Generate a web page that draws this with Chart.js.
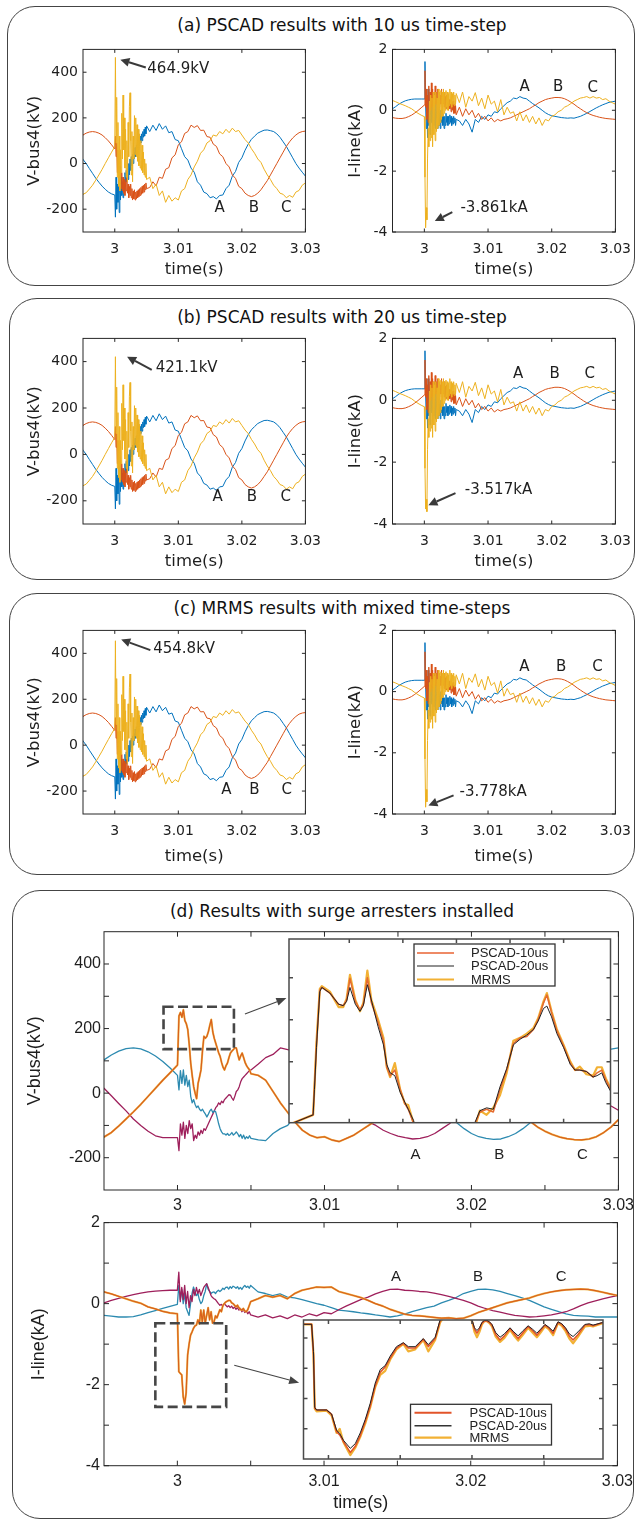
<!DOCTYPE html>
<html>
<head>
<meta charset="utf-8">
<title>Fault transients: PSCAD vs MRMS</title>
<script src="https://cdn.jsdelivr.net/npm/chart.js@4.4.1/dist/chart.umd.min.js"></script>
<style>
  body { margin: 0; background: #fff; }
  #page { position: relative; width: 636px; height: 1521px; overflow: hidden; background: #fff; }
  .panel { position: absolute; border: 1.5px solid #444; border-radius: 28px; box-sizing: border-box; }
  .title { position: absolute; left: 42px; width: 600px; text-align: center; font: 17px "DejaVu Sans", sans-serif;
           line-height: 20px; color: #111; white-space: nowrap; }
  canvas { position: absolute; }
</style>
</head>
<body>
<div id="page">
  <div class="panel" style="left:7px;top:6px;width:628px;height:280px"></div>
  <div class="panel" style="left:9px;top:298px;width:626px;height:282px"></div>
  <div class="panel" style="left:9px;top:593px;width:626px;height:282px"></div>
  <div class="panel" style="left:12px;top:890px;width:622px;height:629px"></div>
  <div class="title" style="top:15px">(a) PSCAD results with 10 us time-step</div>
  <div class="title" style="top:307px">(b) PSCAD results with 20 us time-step</div>
  <div class="title" style="top:598px">(c) MRMS results with mixed time-steps</div>
  <div class="title" style="top:901px">(d) Results with surge arresters installed</div>
</div>
<script>
// ---- sample times (s): 0.5 ms steps before the fault, 0.1 ms for 5 ms after it, then 0.5 ms
function steps(from, to, dt) {
  const out = [];
  for (let i = 0; from + i * dt <= to + dt / 2; i++) out.push(+(from + i * dt).toFixed(5));
  return out;
}
const t = steps(2.995, 3.0, 0.0005).concat(steps(3.0001, 3.005, 0.0001), steps(3.0055, 3.03, 0.0005));

// ---- (a)-(c) bus voltage, kV (phase A, B, C)
const vA = [
  18, 0, -22, -43, -64, -82, -99, -113, -125, -133, -138,
  -235, -60, -200, -90, -170, -70, -215, -110, -160, -60,
  -140, -80, -150, -70, -120, -40, -100, -30, -80, -20,
  -70, 0, -50, 20, -30, 30, -10, 40, 0, 50,
  20, 70, 30, 80, 50, 100, 60, 110, 80, 120,
  90, 130, 100, 140, 115, 150, 120, 160, 130, 165,
  140, 168, 145, 175, 150, 165, 135, 140, 105, 100,
  65, 30, 15, -20, -38, -80, -95, -125, -132, -150,
  -145, -155, -140, -138, -110, -95, -55, -35, 5, 25,
  58, 85, 106, 120, 133, 140, 146, 147, 144, 140,
  130, 115, 95, 75, 50, 25, 0, -20, -38, -55
];
const vB = [
  125, 133, 138, 140, 138, 133, 125, 113, 99, 82, 64,
  120, 30, 90, -40, 60, -80, 20, -90, -10, -110,
  -40, -120, -60, -130, -70, -140, -80, -120, -60, -130,
  -90, -150, -100, -140, -90, -150, -110, -160, -120, -155,
  -115, -160, -125, -155, -120, -150, -115, -145, -110, -140,
  -105, -135, -100, -130, -95, -125, -90, -115, -85, -110,
  -105, -80, -98, -60, -65, -25, -18, 25, 38, 82,
  95, 132, 140, 168, 158, 166, 145, 146, 118, 115,
  85, 75, 42, 30, 0, -15, -50, -65, -100, -110,
  -130, -140, -145, -140, -130, -115, -95, -75, -50, -25,
  0, 25, 50, 75, 95, 112, 125, 135, 140, 142
];
const vC = [
  -135, -128, -112, -95, -73, -50, -26, 0, 25, 50, 73,
  465, 90, 290, -60, 180, -100, 120, -120, 60, -40,
  220, 20, 300, 60, 200, -20, 150, -60, 100, -80,
  180, 30, 250, 310, 100, -50, 140, -80, 120, 20,
  210, 40, 200, 30, 170, 10, 150, -10, 130, -20,
  100, -30, 80, -40, 50, -50, 20, -60, 0, -70,
  -60, -110, -90, -140, -120, -170, -140, -165, -150, -160,
  -120, -110, -70, -50, -15, 10, 45, 60, 90, 100,
  125, 120, 140, 130, 150, 135, 155, 140, 145, 125,
  105, 90, 65, 45, 20, 5, -25, -50, -70, -95,
  -110, -130, -135, -150, -140, -148, -125, -118, -95, -85
];
// ---- (a)-(c) line current, kA
const iA = [
  0.05, 0.12, 0.2, 0.26, 0.31, 0.34, 0.36, 0.37, 0.37, 0.37, 0.37,
  1.6, 0.2, -0.6, 0.5, -0.9, 0.7, -0.5, 0.3, -0.8, 0.5,
  -0.4, 0.2, -0.7, 0.4, -0.5, 0.1, -0.6, 0.3, -0.4, 0.0,
  -0.6, 0.2, -0.5, -0.1, -0.6, 0.0, -0.4, -0.1, -0.5, -0.2,
  -0.6, -0.2, -0.5, -0.1, -0.4, -0.2, -0.5, -0.2, -0.45, -0.15,
  -0.4, -0.2, -0.5, -0.25, -0.45, -0.2, -0.4, -0.25, -0.5, -0.3,
  -0.35, -0.5, -0.3, -0.45, -0.72, -0.3, -0.4, -0.2, -0.3, -0.15,
  -0.2, -0.05, -0.08, 0.05, 0.15, 0.25, 0.3, 0.4, 0.38, 0.45,
  0.4, 0.38, 0.3, 0.22, 0.15, 0.08, 0.0, -0.08, -0.14, -0.18,
  -0.2, -0.22, -0.24, -0.25, -0.26, -0.25, -0.26, -0.23, -0.2, -0.15,
  -0.1, -0.04, 0.02, 0.08, 0.13, 0.18, 0.22, 0.26, 0.28, 0.3
];
const iB = [
  -0.24, -0.26, -0.27, -0.27, -0.25, -0.21, -0.16, -0.09, -0.01, 0.08, 0.17,
  1.3, 0.1, 0.7, -0.3, 0.5, -0.4, 0.8, -0.2, 0.6, 0.0,
  0.9, 0.1, 0.7, -0.1, 0.6, 0.1, 0.8, 0.2, 0.6, 0.0,
  0.7, 0.2, 0.6, 0.1, 0.5, 0.2, 0.7, 0.1, 0.5, 0.2,
  0.6, 0.1, 0.45, 0.05, 0.5, 0.1, 0.4, 0.0, 0.35, 0.05,
  0.3, -0.05, 0.25, 0.0, 0.3, -0.1, 0.2, -0.1, 0.15, -0.15,
  0.1, -0.2, 0.05, -0.15, 0.0, -0.25, -0.1, -0.3, -0.2, -0.35,
  -0.25, -0.38, -0.3, -0.35, -0.3, -0.28, -0.25, -0.2, -0.15, -0.1,
  -0.05, 0.0, 0.05, 0.12, 0.18, 0.25, 0.3, 0.35, 0.38, 0.4,
  0.42, 0.42, 0.41, 0.38, 0.33, 0.27, 0.2, 0.12, 0.05, -0.02,
  -0.08, -0.13, -0.17, -0.2, -0.23, -0.25, -0.27, -0.28, -0.29, -0.3
];
const iC = [
  0.32, 0.28, 0.23, 0.19, 0.15, 0.1, 0.05, -0.03, -0.1, -0.16, -0.21,
  -2.2, -3.86, -3.2, -3.6, -1.6, -0.6, -1.2, 0.3, -1.0, 0.5,
  -0.9, 0.4, -1.2, 0.6, -0.8, 0.5, -1.0, 0.6, -0.7, 0.4,
  -0.6, 0.7, -0.5, 0.6, -0.4, 0.65, -0.3, 0.6, -0.2, 0.7,
  -0.1, 0.6, 0.0, 0.65, 0.1, 0.6, 0.0, 0.55, 0.15, 0.7,
  0.2, 0.6, 0.1, 0.55, 0.2, 0.6, 0.15, 0.5, 0.2, 0.55,
  0.25, 0.6, 0.1, 0.45, 0.3, 0.58, 0.15, 0.4, 0.05, 0.5,
  0.2, 0.3, -0.05, 0.35, -0.15, 0.1, -0.1, -0.05, -0.35, -0.05,
  -0.35, -0.15, -0.4, -0.2, -0.45, -0.25, -0.5, -0.3, -0.35, -0.2,
  -0.15, -0.05, 0.0, 0.1, 0.15, 0.22, 0.3, 0.35, 0.4, 0.42,
  0.45, 0.4, 0.45, 0.4, 0.42, 0.35, 0.38, 0.3, 0.25, 0.2
];
// peak values marked in (a), (b), (c)
const vPeak = [464.9, 421.1, 454.8];
const iPeak = [-3.861, -3.517, -3.778];

// ---- (d) with surge arresters: voltage kV, current kA
const dA = [
  15, -8, -32, -55, -80, -100, -118, -132, -138, -138, -138,
  -178, -95, -130, -90, -140, -100, -125, -85, -110, -95,
  -147, -130, -140, -120, -130, -115, -125, -110, -115, -105,
  -95, -85, -75, -65, -55, -45, -40, -30, -35, -25,
  -30, -20, -15, -10, -5, -6, -15, -22, -10, 5,
  10, 20, 35, 45, 50, 55, 60, 65, 70, 72,
  90, 110, 120, 140, 135, 130, 115, 95, 70, 40,
  15, -10, -35, -55, -75, -90, -100, -115, -125, -133,
  -138, -142, -140, -135, -125, -110, -95, -75, -50, -25,
  0, 25, 55, 80, 105, 125, 138, 142, 138, 128,
  112, 92, 70, 48, 25, 5, -12, -25, -40, -53
];
const dB = [
  103, 118, 130, 138, 140, 137, 128, 115, 98, 78, 55,
  10, 70, 30, 72, 25, 55, 20, 40, -10, -30,
  -20, -35, -45, -40, -50, -55, -50, -58, -65, -74,
  -65, -55, -50, -60, -55, -58, -75, -95, -110, -120,
  -126, -126, -130, -125, -131, -128, -122, -130, -126, -120,
  -126, -135, -128, -140, -130, -142, -135, -140, -132, -140,
  -145, -147, -125, -110, -100, -70, -40, -10, 20, 50,
  80, 105, 125, 138, 145, 145, 140, 130, 115, 95,
  75, 50, 25, 0, -25, -50, -72, -92, -110, -125,
  -135, -140, -143, -142, -135, -125, -110, -92, -70, -45,
  -20, 5, 30, 55, 78, 98, 115, 128, 136, 140
];
const dC = [
  -136, -122, -102, -80, -58, -35, -10, 15, 40, 63, 87,
  239, 250, 235, 258, 225, 215, 197, 150, 93, 55,
  20, 0, -17, 30, 50, 72, 130, 176, 170, 176,
  190, 210, 228, 190, 170, 155, 140, 125, 114, 95,
  80, 72, 85, 93, 110, 124, 130, 135, 140, 140,
  120, 103, 115, 124, 110, 95, 85, 78, 72, 60,
  55, 40, 5, -30, -60, -90, -115, -130, -138, -135,
  -145, -150, -140, -130, -115, -100, -85, -60, -30, 0,
  30, 60, 90, 115, 132, 142, 145, 140, 128, 110,
  88, 62, 35, 8, -20, -45, -68, -88, -105, -118,
  -128, -136, -141, -144, -145, -142, -135, -122, -105, -82
];
const diA = [
  0.02, 0.08, 0.13, 0.18, 0.22, 0.26, 0.29, 0.31, 0.32, 0.33, 0.33,
  0.78, 0.05, 0.4, 0.1, 0.45, 0.0, 0.3, -0.1, 0.2, 0.05,
  0.35, 0.2, 0.4, 0.25, 0.35, 0.2, 0.3, 0.4, 0.45, 0.49,
  0.4, 0.3, 0.2, 0.15, 0.12, 0.1, 0.05, 0.0, -0.04, -0.02,
  -0.06, 0.0, -0.04, -0.08, -0.05, -0.1, -0.06, -0.12, -0.08, -0.14,
  -0.1, -0.16, -0.12, -0.2, -0.15, -0.22, -0.18, -0.25, -0.2, -0.28,
  -0.33, -0.28, -0.35, -0.3, -0.37, -0.28, -0.33, -0.25, -0.3, -0.22,
  -0.25, -0.15, -0.06, 0.02, 0.1, 0.16, 0.24, 0.3, 0.35, 0.36,
  0.33, 0.32, 0.3, 0.29, 0.26, 0.22, 0.18, 0.13, 0.08, 0.02,
  -0.06, -0.12, -0.17, -0.21, -0.25, -0.29, -0.31, -0.33, -0.32, -0.3,
  -0.28, -0.24, -0.2, -0.13, -0.05, 0.02, 0.07, 0.12, 0.16, 0.2
];
const diB = [
  -0.29, -0.31, -0.33, -0.33, -0.32, -0.28, -0.22, -0.17, -0.12, -0.07, -0.02,
  0.45, 0.1, 0.35, 0.0, 0.25, -0.1, -0.2, -0.29, 0.0, 0.25,
  0.41, 0.3, 0.2, 0.25, 0.1, 0.0, 0.05, 0.2, 0.3, 0.49,
  0.35, 0.3, 0.25, 0.28, 0.29, 0.25, 0.3, 0.33, 0.3, 0.33,
  0.38, 0.35, 0.4, 0.41, 0.36, 0.42, 0.38, 0.43, 0.41, 0.38,
  0.42, 0.36, 0.4, 0.35, 0.41, 0.45, 0.4, 0.43, 0.38, 0.45,
  0.29, 0.25, 0.2, 0.24, 0.16, 0.14, 0.1, 0.05, 0.0, -0.04,
  -0.1, -0.16, -0.18, -0.2, -0.23, -0.25, -0.28, -0.3, -0.33, -0.3,
  -0.26, -0.2, -0.15, -0.1, -0.06, 0.02, 0.08, 0.15, 0.25, 0.3,
  0.35, 0.36, 0.34, 0.3, 0.25, 0.2, 0.14, 0.08, 0.0, -0.08,
  -0.14, -0.2, -0.25, -0.29, -0.3, -0.31, -0.33, -0.33, -0.33, -0.33
];
const diC = [
  0.29, 0.24, 0.18, 0.12, 0.06, 0.01, -0.08, -0.13, -0.19, -0.23, -0.25,
  -1.68, -1.72, -1.76, -2.3, -2.48, -2.2, -1.27, -1.0, -0.78, -0.7,
  -0.61, -0.55, -0.53, -0.4, -0.5, -0.16, -0.45, -0.16, -0.48, -0.29,
  -0.1, -0.4, -0.2, -0.48, -0.45, -0.3, -0.35, -0.25, -0.15, -0.2,
  -0.05, 0.0, 0.04, 0.06, 0.08, 0.08, 0.02, 0.0, -0.04, -0.08,
  -0.04, -0.1, -0.14, -0.16, -0.12, -0.18, -0.2, -0.15, -0.05, 0.05,
  0.12, 0.2, 0.16, 0.2, 0.12, 0.25, 0.33, 0.37, 0.41, 0.4,
  0.41, 0.3, 0.25, 0.2, 0.15, 0.08, 0.0, -0.06, -0.14, -0.2,
  -0.26, -0.29, -0.3, -0.32, -0.34, -0.36, -0.35, -0.37, -0.36, -0.3,
  -0.22, -0.16, -0.1, -0.04, 0.02, 0.06, 0.1, 0.14, 0.2, 0.25,
  0.29, 0.32, 0.34, 0.35, 0.36, 0.35, 0.32, 0.28, 0.24, 0.2
];

// ---- (d) zoomed insets: phase C voltage and current, three solvers
const insVt = [2.9996, 2.99996, 2.99998, 3.00001, 3.00006, 3.00009, 3.00021, 3.00034, 3.00041, 3.00046,
  3.00051, 3.00059, 3.00066, 3.00071, 3.00077, 3.00083, 3.00093, 3.00101, 3.00106, 3.00111,
  3.00118, 3.00126, 3.00133, 3.00138, 3.00146, 3.00171, 3.002, 3.00223, 3.00238, 3.00245,
  3.00255, 3.00265, 3.00275, 3.00285, 3.00295, 3.00305, 3.00315, 3.00325, 3.00332, 3.0034,
  3.00345, 3.00352, 3.0036, 3.0037, 3.0038, 3.00387, 3.00394, 3.00404, 3.00414, 3.0042,
  3.00427, 3.00433, 3.0044];
const insV10 = [135, 142, 162, 192, 231, 233, 229, 221, 220, 224,
  239.5, 223, 217, 221, 240, 222, 208, 195, 176, 170,
  174, 160, 150, 146, 136, 80, 60, 100, 136, 144,
  146, 144, 160, 174, 193, 197, 198, 203, 210, 222,
  227.6, 215, 202, 191, 179, 174, 174, 173, 169, 172,
  174, 167, 160];
const insV20 = [135, 142, 160, 190, 230, 233, 229, 221, 220, 223,
  233, 221, 216, 220, 235, 224, 205, 192, 178, 172,
  170, 158, 151, 146, 138, 82, 62, 98, 137, 145,
  147, 146, 162, 175, 192, 196, 199, 203, 209, 218,
  219.7, 212, 200, 190, 178, 174, 174, 173, 169, 170,
  172, 165, 159];
const insVM = [135, 142, 162, 194, 232, 234, 230, 219, 219, 225,
  242, 224, 216, 222, 245, 224, 210, 197, 176, 169,
  179, 160, 150, 149, 136, 80, 60, 100, 134, 145,
  142, 147, 156, 172, 195, 197, 200, 204, 211, 223,
  229, 216, 203, 192, 180, 174, 176.5, 171, 170, 176,
  176, 168, 161];
const insIt = [2.9998, 2.99993, 2.99996, 2.99998, 3.00001, 3.00017, 3.00025, 3.00033, 3.00038, 3.00044,
  3.00055, 3.00063, 3.00071, 3.00079, 3.00087, 3.00095, 3.00103, 3.00111, 3.00119, 3.00129,
  3.0014, 3.00148, 3.00159, 3.00172, 3.0018, 3.00191, 3.00199, 3.00223,
  3.0025, 3.00254, 3.00258, 3.00262, 3.00266, 3.0027, 3.00274, 3.00278, 3.00282, 3.00288,
  3.00295, 3.00302, 3.00311, 3.00317, 3.00324, 3.00331, 3.0034, 3.00347, 3.00354, 3.0036,
  3.00367, 3.00373, 3.0038, 3.00384, 3.00388, 3.00394, 3.004, 3.00406, 3.00412, 3.0042,
  3.00431, 3.00438, 3.00444, 3.0046];
const insI10 = [-0.548, -0.548, -1.0, -1.795, -1.82, -1.82, -1.885, -2.143, -2.19, -2.29,
  -2.45, -2.36, -2.2, -1.99, -1.76, -1.46, -1.26, -1.18, -1.05, -0.9,
  -0.83, -0.9, -0.9, -0.77, -0.88, -0.76, -0.5, -0.2,
  -0.49, -0.62, -0.68, -0.62, -0.53, -0.5, -0.5, -0.52, -0.56, -0.7,
  -0.78, -0.72, -0.61, -0.68, -0.76, -0.68, -0.58, -0.64, -0.71, -0.64,
  -0.56, -0.6, -0.68, -0.6, -0.52, -0.55, -0.62, -0.72, -0.78, -0.7,
  -0.56, -0.55, -0.57, -0.52];
const insI20 = [-0.548, -0.548, -0.95, -1.78, -1.82, -1.82, -1.88, -2.12, -2.17, -2.27,
  -2.39, -2.32, -2.16, -1.96, -1.72, -1.42, -1.22, -1.16, -1.02, -0.88,
  -0.82, -0.88, -0.88, -0.76, -0.85, -0.74, -0.48, -0.2,
  -0.48, -0.6, -0.64, -0.6, -0.52, -0.49, -0.49, -0.51, -0.55, -0.67,
  -0.74, -0.69, -0.6, -0.66, -0.72, -0.65, -0.57, -0.62, -0.68, -0.62,
  -0.55, -0.59, -0.65, -0.58, -0.51, -0.54, -0.6, -0.69, -0.73, -0.66,
  -0.55, -0.54, -0.56, -0.52];
const insIM = [-0.548, -0.548, -1.0, -1.8, -1.84, -1.83, -1.9, -2.16, -2.1, -2.3,
  -2.49, -2.38, -2.22, -2.02, -1.78, -1.48, -1.3, -1.24, -1.07, -0.92,
  -0.84, -0.95, -0.92, -0.78, -0.95, -0.78, -0.52, -0.2,
  -0.5, -0.66, -0.74, -0.66, -0.55, -0.5, -0.5, -0.53, -0.58, -0.73,
  -0.81, -0.75, -0.63, -0.71, -0.79, -0.71, -0.6, -0.67, -0.74, -0.67,
  -0.58, -0.62, -0.71, -0.62, -0.53, -0.57, -0.65, -0.76, -0.83, -0.73,
  -0.58, -0.57, -0.58, -0.53];

// ---- ticks
const xTicks = [3, 3.01, 3.02, 3.03];
const xLabels = ['3', '3.01', '3.02', '3.03'];
const vTicks = [-200, 0, 200, 400];
const iTicks = [-4, -2, 0, 2];
const dxTicks = [3, 3.005, 3.01, 3.015, 3.02, 3.025, 3.03];
const dxLabels = ['3', '', '3.01', '', '3.02', '', '3.03'];
const dvTicks = [-200, -100, 0, 100, 200, 300, 400];
const dvLabels = ['-200', '', '0', '', '200', '', '400'];
const diTicks = [-4, -3, -2, -1, 0, 1, 2];
const diLabels = ['-4', '', '-2', '', '0', '', '2'];
const phases = ['A', 'B', 'C'];
const solvers = ['PSCAD-10us', 'PSCAD-20us', 'MRMS'];

const page = document.getElementById('page');
const INK = '#1e1e1e';

function line(xs, ys, color, width) {
  return {
    data: xs.map((x, i) => ({x: x, y: ys[i]})),
    borderColor: color, borderWidth: width, pointRadius: 0, tension: 0,
    fill: false, borderJoinStyle: 'round', borderCapStyle: 'round'
  };
}

// matlab style box with inward ticks
function boxPlugin(b) {
  return {
    id: 'matBox',
    beforeDatasetsDraw(chart) {
      if (!b.fill) return;
      const a = chart.chartArea, ctx = chart.ctx;
      ctx.save();
      ctx.fillStyle = b.fill;
      ctx.fillRect(a.left, a.top, a.right - a.left, a.bottom - a.top);
      ctx.restore();
    },
    afterDatasetsDraw(chart) {
      const {ctx, chartArea: a, scales: {x, y}} = chart;
      ctx.save();
      ctx.strokeStyle = b.color;
      ctx.lineWidth = b.width;
      ctx.beginPath();
      x.ticks.forEach(tk => {
        const p = x.getPixelForValue(tk.value);
        ctx.moveTo(p, a.bottom); ctx.lineTo(p, a.bottom - b.tick);
        ctx.moveTo(p, a.top); ctx.lineTo(p, a.top + b.tick);
      });
      y.ticks.forEach(tk => {
        const p = y.getPixelForValue(tk.value);
        ctx.moveTo(a.left, p); ctx.lineTo(a.left + b.tick, p);
        ctx.moveTo(a.right, p); ctx.lineTo(a.right - b.tick, p);
      });
      ctx.stroke();
      ctx.strokeRect(a.left, a.top, a.right - a.left, a.bottom - a.top);
      if (b.legend) drawLegend(ctx, a, b.legend);
      ctx.restore();
    }
  };
}

function drawLegend(ctx, a, lg) {
  const x0 = a.left + lg.dx, y0 = a.top + lg.dy;
  ctx.fillStyle = '#fff';
  ctx.fillRect(x0, y0, lg.w, lg.h);
  ctx.strokeStyle = '#333';
  ctx.lineWidth = 1.3;
  ctx.strokeRect(x0, y0, lg.w, lg.h);
  ctx.font = '13px "Liberation Sans"';
  ctx.textBaseline = 'middle';
  ctx.textAlign = 'left';
  lg.rows.forEach((row, k) => {
    const yy = y0 + lg.rowY[k];
    ctx.strokeStyle = row.color;
    ctx.lineWidth = row.width;
    ctx.beginPath();
    ctx.moveTo(x0 + lg.l1, yy); ctx.lineTo(x0 + lg.l2, yy);
    ctx.stroke();
    ctx.fillStyle = '#222';
    ctx.fillText(row.text, x0 + lg.tx, yy + 0.5);
  });
}

function drawArrow(ctx, x1, y1, x2, y2, w, len, half, color) {
  const ang = Math.atan2(y2 - y1, x2 - x1);
  const bx = x2 - len * Math.cos(ang), by = y2 - len * Math.sin(ang);
  ctx.strokeStyle = color; ctx.fillStyle = color; ctx.lineWidth = w;
  ctx.beginPath(); ctx.moveTo(x1, y1); ctx.lineTo(bx, by); ctx.stroke();
  ctx.beginPath();
  ctx.moveTo(x2, y2);
  ctx.lineTo(bx + half * Math.sin(ang), by - half * Math.cos(ang));
  ctx.lineTo(bx - half * Math.sin(ang), by + half * Math.cos(ang));
  ctx.closePath(); ctx.fill();
}

// arrows, texts and dashed boxes placed in data coordinates
function notesPlugin(n) {
  return {
    id: 'notes',
    afterDraw(chart) {
      const {ctx, scales: {x, y}} = chart;
      const px = v => x.getPixelForValue(v), py = v => y.getPixelForValue(v);
      ctx.save();
      (n.rects || []).forEach(r => {
        ctx.setLineDash(r.dash); ctx.lineWidth = r.w; ctx.strokeStyle = r.color;
        ctx.strokeRect(px(r.x1), py(r.y2), px(r.x2) - px(r.x1), py(r.y1) - py(r.y2));
      });
      ctx.setLineDash([]);
      (n.arrows || []).forEach(a => drawArrow(ctx, px(a.p[0]), py(a.p[1]), px(a.p[2]), py(a.p[3]), a.w, a.len, a.half, a.color));
      (n.texts || []).forEach(tx => {
        ctx.font = tx.font; ctx.fillStyle = INK; ctx.textAlign = tx.align; ctx.textBaseline = 'middle';
        ctx.fillText(tx.text, px(tx.x), py(tx.y));
      });
      ctx.restore();
    }
  };
}

// datasets are given bottom-to-top; chart.js paints the first dataset last
function makeChart(o) {
  const r = o.rect, m = o.m;
  const tf = o.titleFont || {size: 12};
  const lh = tf.size * 1.2;
  let bottomM = m.B;
  if (o.xTitle) bottomM = o.xTitleY + lh / 2 + 1 - r.b;
  const cl = Math.floor(r.l - m.L), ct = Math.floor(r.t - m.T);
  const cr = Math.ceil(r.r + m.R), cb = Math.ceil(r.b + bottomM);
  const W = cr - cl, H = cb - ct;
  const cv = document.createElement('canvas');
  cv.width = W; cv.height = H;
  cv.style.left = cl + 'px'; cv.style.top = ct + 'px';
  cv.style.width = W + 'px'; cv.style.height = H + 'px';
  page.appendChild(cv);

  const axis = (ax, isX) => ({
    type: 'linear', min: ax.min, max: ax.max,
    grid: {display: false, drawTicks: false},
    border: {display: false},
    ticks: {
      display: !!ax.labels, padding: ax.pad || 0, font: o.tickFont, color: INK,
      maxRotation: 0, minRotation: 0, autoSkip: false,
      callback: (v, i) => (ax.labels ? ax.labels[i] : '')
    },
    afterBuildTicks: s => { s.ticks = ax.ticks.map(v => ({value: v})); },
    afterFit: s => { if (isX) s.height = cb - r.b; else s.width = r.l - cl; },
    title: ax.title ? {
      display: true, text: ax.title, color: INK, font: tf,
      padding: isX ? {top: 0, bottom: cb - o.xTitleY - lh / 2} : {top: o.yTitleX - cl - lh / 2, bottom: 0}
    } : {display: false}
  });

  return new Chart(cv, {
    type: 'line',
    data: {datasets: o.datasets.slice().reverse()},
    options: {
      responsive: false, animation: false, events: [],
      layout: {padding: {left: 0, right: cr - r.r, top: r.t - ct, bottom: 0}},
      plugins: {legend: {display: false}, tooltip: {enabled: false}},
      scales: {x: axis(o.x, true), y: axis(o.y, false)}
    },
    plugins: [boxPlugin(o.box), notesPlugin(o.notes || {})]
  });
}

// ---------------- panels (a) (b) (c)
const acRects = [
  {v: {l: 83, r: 310, t: 48, b: 232}, i: {l: 392.5, r: 619.5, t: 48, b: 232}, xTitleY: 270},
  {v: {l: 83, r: 310, t: 337.5, b: 524}, i: {l: 392.5, r: 619.5, t: 337.5, b: 524}, xTitleY: 562},
  {v: {l: 83, r: 310, t: 629, b: 814}, i: {l: 392.5, r: 619.5, t: 629, b: 814}, xTitleY: 857}
];
const acNotes = [
  {vArrow: [3.00488, 421, 3.00088, 455], vText: [3.00512, 413], iArrow: [3.00439, -3.35, 3.00164, -3.64], iText: [3.00567, -3.23],
   vABC: [[3.0165, -197], [3.0219, -197], [3.027, -195]], iABC: [[3.01575, 0.77], [3.021, 0.77], [3.02645, 0.73]]},
  {vArrow: [3.00582, 364, 3.00194, 421], vText: [3.00644, 370], iArrow: [3.00489, -3.0, 3.00063, -3.39], iText: [3.00636, -2.92],
   vABC: [[3.0162, -183], [3.02157, -183], [3.0269, -183]], iABC: [[3.01472, 0.84], [3.02044, 0.84], [3.02598, 0.84]]},
  {vArrow: [3.0056, 414, 3.00101, 460], vText: [3.00605, 417], iArrow: [3.00459, -3.39, 3.00064, -3.72], iText: [3.00552, -3.28],
   vABC: [[3.01758, -194], [3.02198, -194], [3.02707, -194]], iABC: [[3.01572, 0.79], [3.02146, 0.79], [3.0272, 0.79]]}
];
const BLUE = '#0072BD', ORANGE = '#D95319', YELLOW = '#EDB120';
const acTick = {family: 'DejaVu Sans', size: 14};
const noteFont = '15px "DejaVu Sans"';
const acBox = {color: '#262626', width: 1, tick: 3.5};

acRects.forEach((rc, p) => {
  const nt = acNotes[p];
  const vCp = vC.slice(); vCp[11] = vPeak[p];
  const iCp = iC.slice(); iCp[12] = iPeak[p];
  makeChart({
    rect: rc.v, m: {L: 78, R: 20, T: 12},
    tickFont: acTick, titleFont: {family: 'DejaVu Sans', size: 16.5},
    xTitle: true, xTitleY: rc.xTitleY, yTitleX: 35,
    x: {min: 2.995, max: 3.03, ticks: xTicks, labels: xLabels, pad: 9, title: 'time(s)'},
    y: {min: -300, max: 500, ticks: vTicks, labels: vTicks.map(String), pad: 5, title: 'V-bus4(kV)'},
    datasets: [line(t, vA, BLUE, 1), line(t, vB, ORANGE, 1), line(t, vCp, YELLOW, 1)],
    box: acBox,
    notes: {
      arrows: [{p: nt.vArrow, w: 2, len: 9, half: 4.5, color: '#3a3a3a'}],
      texts: [{x: nt.vText[0], y: nt.vText[1], text: vPeak[p].toFixed(1) + 'kV', font: noteFont, align: 'left'}]
        .concat(nt.vABC.map((q, k) => ({x: q[0], y: q[1], text: phases[k], font: noteFont, align: 'center'})))
    }
  });
  makeChart({
    rect: rc.i, m: {L: 62, R: 20, T: 12},
    tickFont: acTick, titleFont: {family: 'DejaVu Sans', size: 16.5},
    xTitle: true, xTitleY: rc.xTitleY, yTitleX: 356,
    x: {min: 2.995, max: 3.03, ticks: xTicks, labels: xLabels, pad: 9, title: 'time(s)'},
    y: {min: -4, max: 2, ticks: iTicks, labels: iTicks.map(String), pad: 5, title: 'I-line(kA)'},
    datasets: [line(t, iA, BLUE, 1), line(t, iB, ORANGE, 1), line(t, iCp, YELLOW, 1)],
    box: acBox,
    notes: {
      arrows: [{p: nt.iArrow, w: 2, len: 9, half: 4.5, color: '#3a3a3a'}],
      texts: [{x: nt.iText[0], y: nt.iText[1], text: iPeak[p].toFixed(3) + 'kA', font: noteFont, align: 'left'}]
        .concat(nt.iABC.map((q, k) => ({x: q[0], y: q[1], text: phases[k], font: noteFont, align: 'center'})))
    }
  });
});

// ---------------- panel (d)
const PURPLE = '#9E1F5B', TEAL = '#2C8AB0', DORANGE = '#D9601C', UNDER = '#EDB54A';
const dTick = {family: 'Liberation Sans', size: 16};
const dTitle = {family: 'Liberation Sans', size: 18};
const dNote = '15px "Liberation Sans"';
const dBox = {color: '#262626', width: 1, tick: 5};
const dash = {dash: [10, 4.5], w: 2.6, color: '#464646'};

makeChart({
  rect: {l: 104, r: 621.5, t: 931.7, b: 1190}, m: {L: 92, R: 18, T: 12, B: 30},
  tickFont: dTick, titleFont: dTitle, yTitleX: 35.5,
  x: {min: 2.995, max: 3.03, ticks: dxTicks, labels: dxLabels, pad: 6},
  y: {min: -300, max: 500, ticks: dvTicks, labels: dvLabels, pad: 3, title: 'V-bus4(kV)'},
  datasets: [line(t, dA, PURPLE, 1.3), line(t, dB, TEAL, 1.3), line(t, dC, UNDER, 2), line(t, dC, DORANGE, 1.2)],
  box: dBox,
  notes: {
    rects: [Object.assign({x1: 2.99905, x2: 3.00384, y1: 136.4, y2: 267.5}, dash)],
    arrows: [{p: [3.00459, 245, 3.00741, 294.5], w: 1.1, len: 10, half: 4, color: '#444'}],
    texts: [[3.01619, -192], [3.0219, -192], [3.02755, -192]].map((q, k) => ({x: q[0], y: q[1], text: phases[k], font: dNote, align: 'center'}))
  }
});
makeChart({
  rect: {l: 104, r: 621, t: 1221.7, b: 1465.7}, m: {L: 92, R: 18, T: 12},
  tickFont: dTick, titleFont: dTitle, xTitle: true, xTitleY: 1503, yTitleX: 39.5,
  x: {min: 2.995, max: 3.03, ticks: dxTicks, labels: dxLabels, pad: 6, title: 'time(s)'},
  y: {min: -4, max: 2, ticks: diTicks, labels: diLabels, pad: 4, title: 'I-line(kA)'},
  datasets: [line(t, diB, TEAL, 1.3), line(t, diA, PURPLE, 1.3), line(t, diC, UNDER, 2), line(t, diC, DORANGE, 1.2)],
  box: dBox,
  notes: {
    rects: [Object.assign({x1: 2.9985, x2: 3.00333, y1: -2.548, y2: -0.484}, dash)],
    arrows: [{p: [3.00388, -1.52, 3.0083, -1.95], w: 1.1, len: 10, half: 4, color: '#444'}],
    texts: [[3.0149, 0.65], [3.0205, 0.65], [3.02617, 0.65]].map((q, k) => ({x: q[0], y: q[1], text: phases[k], font: dNote, align: 'center'}))
  }
});

// insets (white background, no labels)
const insBox = (lg) => ({color: '#4a4a4a', width: 1.5, tick: 4, fill: '#fff', legend: lg});
makeChart({
  rect: {l: 289, r: 610.5, t: 939, b: 1122.7}, m: {L: 2, R: 2, T: 2, B: 2},
  x: {min: 2.9996, max: 3.0044, ticks: [3.0005, 3.0013, 3.0021, 3.0029, 3.0037]},
  y: {min: 136.4, max: 267.6, ticks: [150, 180, 210, 240]},
  datasets: [line(insVt, insVM, '#F2B134', 2.2), line(insVt, insV10, '#E46A30', 1.5), line(insVt, insV20, '#222', 1)],
  box: insBox({dx: 125, dy: 5, w: 141, h: 42, l1: 3, l2: 40, tx: 57, rowY: [9, 22, 35.5],
    rows: [{color: '#EE8A66', width: 2.2, text: solvers[0]}, {color: '#222', width: 1.2, text: solvers[1]}, {color: '#F2B134', width: 2.2, text: solvers[2]}]})
});
makeChart({
  rect: {l: 303.5, r: 603, t: 1320, b: 1459}, m: {L: 2, R: 2, T: 2, B: 2},
  x: {min: 2.9998, max: 3.0046, ticks: [3.0002, 3.00135, 3.0025, 3.00365]},
  y: {min: -2.548, max: -0.484, ticks: [-2.1, -1.65, -1.2, -0.75]},
  datasets: [line(insIt, insIM, '#F2B134', 2.2), line(insIt, insI10, '#E2542A', 1.5), line(insIt, insI20, '#222', 1)],
  box: insBox({dx: 107, dy: 84.3, w: 141, h: 40.7, l1: 4, l2: 41, tx: 59, rowY: [8.4, 21.4, 33.4],
    rows: [{color: '#E2542A', width: 2, text: solvers[0]}, {color: '#333', width: 1.5, text: solvers[1]}, {color: '#F2B134', width: 2.2, text: solvers[2]}]})
});
</script>
</body>
</html>
